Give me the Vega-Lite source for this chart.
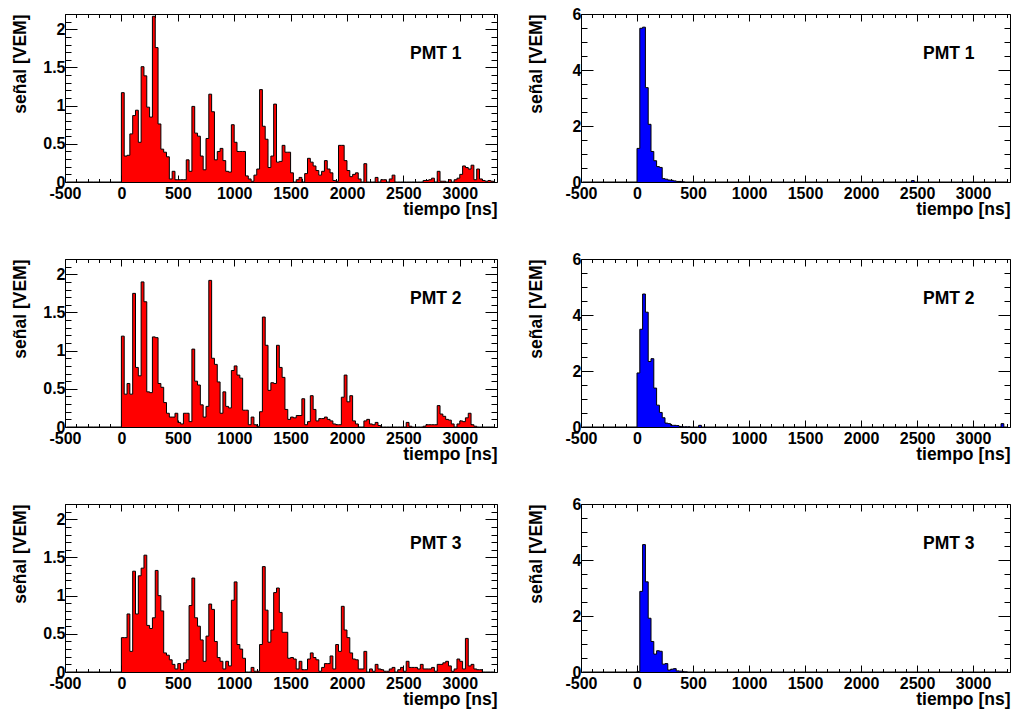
{
"$schema": "https://vega.github.io/schema/vega-lite/v6.json",
"background": "white",
"padding": {"left": 11, "top": 5, "right": 5, "bottom": 0},
"config": {
 "view": {"stroke": "black", "strokeWidth": 1},
 "font": "Liberation Sans",
 "axis": {"labelFont": "Liberation Sans", "labelFontSize": 16, "labelFontWeight": "bold", "labelColor": "black", "titleFont": "Liberation Sans", "titleFontSize": 17.5, "titleFontWeight": "bold", "titleColor": "black", "tickColor": "black", "tickWidth": 1, "domain": false, "grid": false, "labelFlush": false, "labelOverlap": false, "labelBound": false},
 "title": {"font": "Liberation Sans", "fontSize": 17.5, "fontWeight": "bold", "color": "black", "anchor": "end", "offset": -56, "dx": -36}
},
"datasets": {
 "L1": [{"t":-487.5,"v":0},{"t":-12.5,"v":0},
 {"t":12.5,"v":1.17},{"t":37.5,"v":0.34},{"t":62.5,"v":0.35},{"t":87.5,"v":0.63},{"t":112.5,"v":0.87},{"t":137.5,"v":0.94},{"t":162.5,"v":0.52},{"t":187.5,"v":1.51},{"t":212.5,"v":1.39},{"t":237.5,"v":0.98},
 {"t":262.5,"v":0.85},{"t":287.5,"v":2.17},{"t":312.5,"v":1.76},{"t":337.5,"v":0.76},{"t":362.5,"v":0.43},{"t":387.5,"v":0.39},{"t":412.5,"v":0.33},{"t":437.5,"v":0.04},{"t":462.5,"v":0.14},{"t":487.5,"v":0.03},
 {"t":512.5,"v":0.03},{"t":537.5,"v":0.03},{"t":562.5,"v":0.03},{"t":587.5,"v":0.29},{"t":612.5,"v":0.14},{"t":637.5,"v":0.99},{"t":662.5,"v":0.64},{"t":687.5,"v":0.60},{"t":712.5,"v":0.34},{"t":737.5,"v":0.16},
 {"t":762.5,"v":0.57},{"t":787.5,"v":1.15},{"t":812.5,"v":0.92},{"t":837.5,"v":0.29},{"t":862.5,"v":0.40},{"t":887.5,"v":0.44},{"t":912.5,"v":0.28},{"t":937.5,"v":0.14},{"t":962.5,"v":0.13},{"t":987.5,"v":0.75},
 {"t":1012.5,"v":0.52},{"t":1037.5,"v":0.40},{"t":1062.5,"v":0.40},{"t":1087.5,"v":0.40},{"t":1112.5,"v":0.08},{"t":1137.5,"v":0.04},{"t":1162.5,"v":0.01},{"t":1187.5,"v":0.09},{"t":1212.5,"v":0.17},{"t":1237.5,"v":1.21},
 {"t":1262.5,"v":0.73},{"t":1287.5,"v":0.56},{"t":1312.5,"v":0.19},{"t":1337.5,"v":0.34},{"t":1362.5,"v":1.02},{"t":1387.5,"v":0.26},{"t":1412.5,"v":0.27},{"t":1437.5,"v":0.48},{"t":1462.5,"v":0.39},{"t":1487.5,"v":0.39},
 {"t":1512.5,"v":0.12},{"t":1537.5,"v":0},{"t":1562.5,"v":0.03},{"t":1587.5,"v":0.06},{"t":1612.5,"v":0},{"t":1637.5,"v":0.11},{"t":1662.5,"v":0.31},{"t":1687.5,"v":0.26},{"t":1712.5,"v":0.21},{"t":1737.5,"v":0.15},
 {"t":1762.5,"v":0.09},{"t":1787.5,"v":0.14},{"t":1812.5,"v":0.28},{"t":1837.5,"v":0.17},{"t":1862.5,"v":0.12},{"t":1887.5,"v":0.02},{"t":1912.5,"v":0.01},{"t":1937.5,"v":0.48},{"t":1962.5,"v":0.48},{"t":1987.5,"v":0.28},
 {"t":2012.5,"v":0.15},{"t":2037.5,"v":0.07},{"t":2062.5,"v":0.10},{"t":2087.5,"v":0.12},{"t":2112.5,"v":0.04},{"t":2137.5,"v":0},{"t":2162.5,"v":0.24},{"t":2187.5,"v":0},{"t":2212.5,"v":0},{"t":2237.5,"v":0},
 {"t":2262.5,"v":0.06},{"t":2287.5,"v":0},{"t":2312.5,"v":0.03},{"t":2337.5,"v":0.03},{"t":2362.5,"v":0},{"t":2387.5,"v":0.04},{"t":2412.5,"v":0.09},{"t":2437.5,"v":0},{"t":2462.5,"v":0},{"t":2487.5,"v":0},
 {"t":2512.5,"v":0},{"t":2537.5,"v":0},{"t":2562.5,"v":0},{"t":2587.5,"v":0},{"t":2612.5,"v":0},{"t":2637.5,"v":0},{"t":2662.5,"v":0},{"t":2687.5,"v":0.02},{"t":2712.5,"v":0.02},{"t":2737.5,"v":0.03},
 {"t":2762.5,"v":0.05},{"t":2787.5,"v":0},{"t":2812.5,"v":0.14},{"t":2837.5,"v":0.01},{"t":2862.5,"v":0.01},{"t":2887.5,"v":0},{"t":2912.5,"v":0.03},{"t":2937.5,"v":0},{"t":2962.5,"v":0.03},{"t":2987.5,"v":0.05},
 {"t":3012.5,"v":0.10},{"t":3037.5,"v":0.21},{"t":3062.5,"v":0.19},{"t":3087.5,"v":0.17},{"t":3112.5,"v":0.22},{"t":3137.5,"v":0.03},{"t":3162.5,"v":0.17},{"t":3187.5,"v":0.04},{"t":3212.5,"v":0.02},{"t":3237.5,"v":0.01},
 {"t":3262.5,"v":0.02},{"t":3287.5,"v":0.01},{"t":3312.5,"v":0}],
 "L2": [{"t":-487.5,"v":0},{"t":-12.5,"v":0},
 {"t":12.5,"v":1.19},{"t":37.5,"v":0.43},{"t":62.5,"v":0.57},{"t":87.5,"v":0.43},{"t":112.5,"v":1.75},{"t":137.5,"v":0.78},{"t":162.5,"v":0.67},{"t":187.5,"v":1.90},{"t":212.5,"v":1.64},{"t":237.5,"v":0.46},
 {"t":262.5,"v":0.45},{"t":287.5,"v":1.18},{"t":312.5,"v":1.17},{"t":337.5,"v":0.57},{"t":362.5,"v":0.52},{"t":387.5,"v":0.32},{"t":412.5,"v":0.18},{"t":437.5,"v":0.13},{"t":462.5,"v":0.13},{"t":487.5,"v":0.18},
 {"t":512.5,"v":0.06},{"t":537.5,"v":0.04},{"t":562.5,"v":0.18},{"t":587.5,"v":0.18},{"t":612.5,"v":0.07},{"t":637.5,"v":1.02},{"t":662.5,"v":0.60},{"t":687.5,"v":0.55},{"t":712.5,"v":0.29},{"t":737.5,"v":0.13},
 {"t":762.5,"v":0.27},{"t":787.5,"v":1.92},{"t":812.5,"v":0.90},{"t":837.5,"v":0.82},{"t":862.5,"v":0.59},{"t":887.5,"v":0.18},{"t":912.5,"v":0.46},{"t":937.5,"v":0.27},{"t":962.5,"v":0.25},{"t":987.5,"v":0.74},
 {"t":1012.5,"v":0.80},{"t":1037.5,"v":0.68},{"t":1062.5,"v":0.64},{"t":1087.5,"v":0.22},{"t":1112.5,"v":0.22},{"t":1137.5,"v":0.03},{"t":1162.5,"v":0.13},{"t":1187.5,"v":0.03},{"t":1212.5,"v":0.01},{"t":1237.5,"v":0.20},
 {"t":1262.5,"v":1.44},{"t":1287.5,"v":1.07},{"t":1312.5,"v":0.48},{"t":1337.5,"v":0.58},{"t":1362.5,"v":0.57},{"t":1387.5,"v":1.07},{"t":1412.5,"v":0.78},{"t":1437.5,"v":0.65},{"t":1462.5,"v":0.23},{"t":1487.5,"v":0.10},
 {"t":1512.5,"v":0.13},{"t":1537.5,"v":0.12},{"t":1562.5,"v":0.15},{"t":1587.5,"v":0.15},{"t":1612.5,"v":0.37},{"t":1637.5,"v":0.03},{"t":1662.5,"v":0.07},{"t":1687.5,"v":0.41},{"t":1712.5,"v":0.23},{"t":1737.5,"v":0.08},
 {"t":1762.5,"v":0.11},{"t":1787.5,"v":0.11},{"t":1812.5,"v":0.13},{"t":1837.5,"v":0.10},{"t":1862.5,"v":0.08},{"t":1887.5,"v":0.04},{"t":1912.5,"v":0.03},{"t":1937.5,"v":0.03},{"t":1962.5,"v":0.39},{"t":1987.5,"v":0.68},
 {"t":2012.5,"v":0.33},{"t":2037.5,"v":0.41},{"t":2062.5,"v":0.08},{"t":2087.5,"v":0.04},{"t":2112.5,"v":0},{"t":2137.5,"v":0},{"t":2162.5,"v":0.08},{"t":2187.5,"v":0.10},{"t":2212.5,"v":0.04},{"t":2237.5,"v":0.03},
 {"t":2262.5,"v":0.06},{"t":2287.5,"v":0.02},{"t":2312.5,"v":0},{"t":2337.5,"v":0},{"t":2362.5,"v":0},{"t":2387.5,"v":0},{"t":2412.5,"v":0},{"t":2437.5,"v":0},{"t":2462.5,"v":0},{"t":2487.5,"v":0},
 {"t":2512.5,"v":0},{"t":2537.5,"v":0.06},{"t":2562.5,"v":0.01},{"t":2587.5,"v":0},{"t":2612.5,"v":0},{"t":2637.5,"v":0},{"t":2662.5,"v":0},{"t":2687.5,"v":0.01},{"t":2712.5,"v":0.03},{"t":2737.5,"v":0.03},
 {"t":2762.5,"v":0.03},{"t":2787.5,"v":0.03},{"t":2812.5,"v":0.28},{"t":2837.5,"v":0.17},{"t":2862.5,"v":0.14},{"t":2887.5,"v":0.10},{"t":2912.5,"v":0.09},{"t":2937.5,"v":0.04},{"t":2962.5,"v":0},{"t":2987.5,"v":0.04},
 {"t":3012.5,"v":0.08},{"t":3037.5,"v":0.07},{"t":3062.5,"v":0.12},{"t":3087.5,"v":0.18},{"t":3112.5,"v":0.03},{"t":3137.5,"v":0.01},{"t":3162.5,"v":0},{"t":3187.5,"v":0},{"t":3212.5,"v":0},{"t":3237.5,"v":0},
 {"t":3262.5,"v":0},{"t":3287.5,"v":0},{"t":3312.5,"v":0}],
 "L3": [{"t":-487.5,"v":0},{"t":-12.5,"v":0},
 {"t":12.5,"v":0.45},{"t":37.5,"v":0.45},{"t":62.5,"v":0.76},{"t":87.5,"v":0.27},{"t":112.5,"v":1.32},{"t":137.5,"v":0.76},{"t":162.5,"v":1.26},{"t":187.5,"v":1.36},{"t":212.5,"v":1.53},{"t":237.5,"v":0.61},
 {"t":262.5,"v":0.57},{"t":287.5,"v":0.71},{"t":312.5,"v":1.33},{"t":337.5,"v":1.00},{"t":362.5,"v":0.80},{"t":387.5,"v":0.25},{"t":412.5,"v":0.22},{"t":437.5,"v":0.16},{"t":462.5,"v":0.10},{"t":487.5,"v":0.04},
 {"t":512.5,"v":0.11},{"t":537.5,"v":0.03},{"t":562.5,"v":0.12},{"t":587.5,"v":0.16},{"t":612.5,"v":0.87},{"t":637.5,"v":1.23},{"t":662.5,"v":0.71},{"t":687.5,"v":0.60},{"t":712.5,"v":0.42},{"t":737.5,"v":0.14},
 {"t":762.5,"v":0.47},{"t":787.5,"v":0.89},{"t":812.5,"v":0.82},{"t":837.5,"v":0.40},{"t":862.5,"v":0.19},{"t":887.5,"v":0.14},{"t":912.5,"v":0.04},{"t":937.5,"v":0.14},{"t":962.5,"v":0.08},{"t":987.5,"v":0.94},
 {"t":1012.5,"v":1.18},{"t":1037.5,"v":0.36},{"t":1062.5,"v":0.30},{"t":1087.5,"v":0.18},{"t":1112.5,"v":0},{"t":1137.5,"v":0},{"t":1162.5,"v":0.06},{"t":1187.5,"v":0.01},{"t":1212.5,"v":0.01},{"t":1237.5,"v":0.36},
 {"t":1262.5,"v":1.38},{"t":1287.5,"v":0.81},{"t":1312.5,"v":0.39},{"t":1337.5,"v":0.55},{"t":1362.5,"v":1.04},{"t":1387.5,"v":1.10},{"t":1412.5,"v":0.78},{"t":1437.5,"v":0.52},{"t":1462.5,"v":0.52},{"t":1487.5,"v":0.18},
 {"t":1512.5,"v":0.19},{"t":1537.5,"v":0.17},{"t":1562.5,"v":0.04},{"t":1587.5,"v":0.14},{"t":1612.5,"v":0.03},{"t":1637.5,"v":0.03},{"t":1662.5,"v":0.17},{"t":1687.5,"v":0.25},{"t":1712.5,"v":0.19},{"t":1737.5,"v":0.16},
 {"t":1762.5,"v":0.01},{"t":1787.5,"v":0.06},{"t":1812.5,"v":0.11},{"t":1837.5,"v":0.11},{"t":1862.5,"v":0.21},{"t":1887.5,"v":0.04},{"t":1912.5,"v":0.36},{"t":1937.5,"v":0.27},{"t":1962.5,"v":0.86},{"t":1987.5,"v":0.55},
 {"t":2012.5,"v":0.45},{"t":2037.5,"v":0.25},{"t":2062.5,"v":0.17},{"t":2087.5,"v":0.16},{"t":2112.5,"v":0.04},{"t":2137.5,"v":0.04},{"t":2162.5,"v":0.27},{"t":2187.5,"v":0},{"t":2212.5,"v":0.04},{"t":2237.5,"v":0.01},
 {"t":2262.5,"v":0.10},{"t":2287.5,"v":0.04},{"t":2312.5,"v":0.03},{"t":2337.5,"v":0.01},{"t":2362.5,"v":0.01},{"t":2387.5,"v":0.04},{"t":2412.5,"v":0.06},{"t":2437.5,"v":0},{"t":2462.5,"v":0.03},{"t":2487.5,"v":0.06},
 {"t":2512.5,"v":0.01},{"t":2537.5,"v":0.14},{"t":2562.5,"v":0.06},{"t":2587.5,"v":0.06},{"t":2612.5,"v":0.06},{"t":2637.5,"v":0.04},{"t":2662.5,"v":0.10},{"t":2687.5,"v":0.04},{"t":2712.5,"v":0.04},{"t":2737.5,"v":0.04},
 {"t":2762.5,"v":0.06},{"t":2787.5,"v":0.01},{"t":2812.5,"v":0.10},{"t":2837.5,"v":0.10},{"t":2862.5,"v":0.12},{"t":2887.5,"v":0.14},{"t":2912.5,"v":0.08},{"t":2937.5,"v":0.01},{"t":2962.5,"v":0.04},{"t":2987.5,"v":0.17},
 {"t":3012.5,"v":0.14},{"t":3037.5,"v":0.04},{"t":3062.5,"v":0.44},{"t":3087.5,"v":0.08},{"t":3112.5,"v":0.10},{"t":3137.5,"v":0.04},{"t":3162.5,"v":0.03},{"t":3187.5,"v":0.03},{"t":3212.5,"v":0},{"t":3237.5,"v":0},
 {"t":3262.5,"v":0},{"t":3287.5,"v":0},{"t":3312.5,"v":0}],
 "R1": [{"t":-487.5,"v":0},{"t":-12.5,"v":0},
 {"t":12.5,"v":1.20},{"t":37.5,"v":5.49},{"t":62.5,"v":5.53},{"t":87.5,"v":3.37},{"t":112.5,"v":2.06},{"t":137.5,"v":1.09},{"t":162.5,"v":0.76},{"t":187.5,"v":0.55},{"t":212.5,"v":0.52},{"t":237.5,"v":0.12},
 {"t":262.5,"v":0.10},{"t":287.5,"v":0.07},{"t":312.5,"v":0.06},{"t":337.5,"v":0.04},{"t":362.5,"v":0.02},{"t":387.5,"v":0.02},{"t":412.5,"v":0.01},{"t":437.5,"v":0},
 {"t":2437.5,"v":0},{"t":2462.5,"v":0.05},{"t":2487.5,"v":0},{"t":3312.5,"v":0}],
 "R2": [{"t":-487.5,"v":0},{"t":-12.5,"v":0},
 {"t":12.5,"v":1.93},{"t":37.5,"v":3.49},{"t":62.5,"v":4.75},{"t":87.5,"v":4.10},{"t":112.5,"v":2.34},{"t":137.5,"v":2.44},{"t":162.5,"v":1.39},{"t":187.5,"v":0.78},{"t":212.5,"v":0.52},{"t":237.5,"v":0.33},
 {"t":262.5,"v":0.14},{"t":287.5,"v":0.12},{"t":312.5,"v":0.06},{"t":337.5,"v":0.06},{"t":362.5,"v":0.05},{"t":387.5,"v":0.02},{"t":412.5,"v":0.01},{"t":437.5,"v":0.01},{"t":462.5,"v":0.01},{"t":487.5,"v":0},
 {"t":512.5,"v":0},{"t":537.5,"v":0},{"t":562.5,"v":0.06},{"t":587.5,"v":0},
 {"t":3237.5,"v":0},{"t":3262.5,"v":0.12},{"t":3287.5,"v":0},{"t":3312.5,"v":0}],
 "R3": [{"t":-487.5,"v":0},{"t":-12.5,"v":0},
 {"t":12.5,"v":0.02},{"t":37.5,"v":2.88},{"t":62.5,"v":4.55},{"t":87.5,"v":3.22},{"t":112.5,"v":1.92},{"t":137.5,"v":1.09},{"t":162.5,"v":0.64},{"t":187.5,"v":0.76},{"t":212.5,"v":0.74},{"t":237.5,"v":0.28},
 {"t":262.5,"v":0.30},{"t":287.5,"v":0.07},{"t":312.5,"v":0.10},{"t":337.5,"v":0.12},{"t":362.5,"v":0.04},{"t":387.5,"v":0.03},{"t":412.5,"v":0.02},{"t":437.5,"v":0.01},{"t":462.5,"v":0},{"t":3312.5,"v":0}]
},
"columns": 2,
"spacing": {"row": 77, "column": 84},
"bounds": "flush",
"concat": [
 {"width": 432, "height": 168, "data": {"name": "L1"}, "title": "PMT 1",
  "layer": [
   {"mark": {"type": "area", "interpolate": "step", "color": "#ff0000"},
    "encoding": {
     "x": {"field": "t", "type": "quantitative", "scale": {"domain": [-500, 3330], "nice": false, "zero": false},
       "axis": {"orient": "bottom", "values": [-500,-400,-300,-200,-100,0,100,200,300,400,500,600,700,800,900,1000,1100,1200,1300,1400,1500,1600,1700,1800,1900,2000,2100,2200,2300,2400,2500,2600,2700,2800,2900,3000,3100,3200,3300], "labelExpr": "datum.value % 500 === 0 ? '' + datum.value : ''", "tickSize": {"condition": {"test": "datum.value % 500 === 0", "value": -7}, "value": -3.5}, "labelPadding": 10, "title": "tiempo [ns]", "titleAnchor": "end", "titlePadding": -4}},
     "y": {"field": "v", "type": "quantitative", "scale": {"domain": [0, 2.2], "nice": false},
       "axis": {"orient": "left", "values": [0,0.1,0.2,0.3,0.4,0.5,0.6,0.7,0.8,0.9,1,1.1,1.2,1.3,1.4,1.5,1.6,1.7,1.8,1.9,2,2.1,2.2], "labelExpr": "datum.value % 0.5 === 0 ? '' + datum.value : ''", "tickSize": {"condition": {"test": "datum.value % 0.5 === 0", "value": -12}, "value": -6}, "labelPadding": 12, "title": "señal [VEM]", "titleAnchor": "end", "titlePadding": 13}}
    }},
   {"mark": {"type": "line", "interpolate": "step", "color": "black", "strokeWidth": 1},
    "encoding": {
     "x": {"field": "t", "type": "quantitative", "axis": {"orient": "top", "values": [-500,-400,-300,-200,-100,0,100,200,300,400,500,600,700,800,900,1000,1100,1200,1300,1400,1500,1600,1700,1800,1900,2000,2100,2200,2300,2400,2500,2600,2700,2800,2900,3000,3100,3200,3300], "labels": false, "tickSize": {"condition": {"test": "datum.value % 500 === 0", "value": -7}, "value": -3.5}, "title": null}},
     "y": {"field": "v", "type": "quantitative", "axis": {"orient": "right", "values": [0,0.1,0.2,0.3,0.4,0.5,0.6,0.7,0.8,0.9,1,1.1,1.2,1.3,1.4,1.5,1.6,1.7,1.8,1.9,2,2.1,2.2], "labels": false, "tickSize": {"condition": {"test": "datum.value % 0.5 === 0", "value": -12}, "value": -6}, "title": null}}
    }}
  ],
  "resolve": {"axis": {"x": "independent", "y": "independent"}}},
 {"width": 429, "height": 168, "data": {"name": "R1"}, "title": "PMT 1",
  "layer": [
   {"mark": {"type": "area", "interpolate": "step", "color": "#0000ff"},
    "encoding": {
     "x": {"field": "t", "type": "quantitative", "scale": {"domain": [-500, 3330], "nice": false, "zero": false},
       "axis": {"orient": "bottom", "values": [-500,-400,-300,-200,-100,0,100,200,300,400,500,600,700,800,900,1000,1100,1200,1300,1400,1500,1600,1700,1800,1900,2000,2100,2200,2300,2400,2500,2600,2700,2800,2900,3000,3100,3200,3300], "labelExpr": "datum.value % 500 === 0 ? '' + datum.value : ''", "tickSize": {"condition": {"test": "datum.value % 500 === 0", "value": -7}, "value": -3.5}, "labelPadding": 10, "title": "tiempo [ns]", "titleAnchor": "end", "titlePadding": -4}},
     "y": {"field": "v", "type": "quantitative", "scale": {"domain": [0, 6], "nice": false},
       "axis": {"orient": "left", "values": [0,0.5,1,1.5,2,2.5,3,3.5,4,4.5,5,5.5,6], "labelExpr": "datum.value % 2 === 0 ? '' + datum.value : ''", "tickSize": {"condition": {"test": "datum.value % 2 === 0", "value": -12}, "value": -6}, "labelPadding": 12, "title": "señal [VEM]", "titleAnchor": "end", "titlePadding": 27}}
    }},
   {"mark": {"type": "line", "interpolate": "step", "color": "black", "strokeWidth": 1},
    "encoding": {
     "x": {"field": "t", "type": "quantitative", "axis": {"orient": "top", "values": [-500,-400,-300,-200,-100,0,100,200,300,400,500,600,700,800,900,1000,1100,1200,1300,1400,1500,1600,1700,1800,1900,2000,2100,2200,2300,2400,2500,2600,2700,2800,2900,3000,3100,3200,3300], "labels": false, "tickSize": {"condition": {"test": "datum.value % 500 === 0", "value": -7}, "value": -3.5}, "title": null}},
     "y": {"field": "v", "type": "quantitative", "axis": {"orient": "right", "values": [0,0.5,1,1.5,2,2.5,3,3.5,4,4.5,5,5.5,6], "labels": false, "tickSize": {"condition": {"test": "datum.value % 2 === 0", "value": -12}, "value": -6}, "title": null}}
    }}
  ],
  "resolve": {"axis": {"x": "independent", "y": "independent"}}},
 {"width": 432, "height": 168, "data": {"name": "L2"}, "title": "PMT 2",
  "layer": [
   {"mark": {"type": "area", "interpolate": "step", "color": "#ff0000"},
    "encoding": {
     "x": {"field": "t", "type": "quantitative", "scale": {"domain": [-500, 3330], "nice": false, "zero": false},
       "axis": {"orient": "bottom", "values": [-500,-400,-300,-200,-100,0,100,200,300,400,500,600,700,800,900,1000,1100,1200,1300,1400,1500,1600,1700,1800,1900,2000,2100,2200,2300,2400,2500,2600,2700,2800,2900,3000,3100,3200,3300], "labelExpr": "datum.value % 500 === 0 ? '' + datum.value : ''", "tickSize": {"condition": {"test": "datum.value % 500 === 0", "value": -7}, "value": -3.5}, "labelPadding": 10, "title": "tiempo [ns]", "titleAnchor": "end", "titlePadding": -4}},
     "y": {"field": "v", "type": "quantitative", "scale": {"domain": [0, 2.2], "nice": false},
       "axis": {"orient": "left", "values": [0,0.1,0.2,0.3,0.4,0.5,0.6,0.7,0.8,0.9,1,1.1,1.2,1.3,1.4,1.5,1.6,1.7,1.8,1.9,2,2.1,2.2], "labelExpr": "datum.value % 0.5 === 0 ? '' + datum.value : ''", "tickSize": {"condition": {"test": "datum.value % 0.5 === 0", "value": -12}, "value": -6}, "labelPadding": 12, "title": "señal [VEM]", "titleAnchor": "end", "titlePadding": 13}}
    }},
   {"mark": {"type": "line", "interpolate": "step", "color": "black", "strokeWidth": 1},
    "encoding": {
     "x": {"field": "t", "type": "quantitative", "axis": {"orient": "top", "values": [-500,-400,-300,-200,-100,0,100,200,300,400,500,600,700,800,900,1000,1100,1200,1300,1400,1500,1600,1700,1800,1900,2000,2100,2200,2300,2400,2500,2600,2700,2800,2900,3000,3100,3200,3300], "labels": false, "tickSize": {"condition": {"test": "datum.value % 500 === 0", "value": -7}, "value": -3.5}, "title": null}},
     "y": {"field": "v", "type": "quantitative", "axis": {"orient": "right", "values": [0,0.1,0.2,0.3,0.4,0.5,0.6,0.7,0.8,0.9,1,1.1,1.2,1.3,1.4,1.5,1.6,1.7,1.8,1.9,2,2.1,2.2], "labels": false, "tickSize": {"condition": {"test": "datum.value % 0.5 === 0", "value": -12}, "value": -6}, "title": null}}
    }}
  ],
  "resolve": {"axis": {"x": "independent", "y": "independent"}}},
 {"width": 429, "height": 168, "data": {"name": "R2"}, "title": "PMT 2",
  "layer": [
   {"mark": {"type": "area", "interpolate": "step", "color": "#0000ff"},
    "encoding": {
     "x": {"field": "t", "type": "quantitative", "scale": {"domain": [-500, 3330], "nice": false, "zero": false},
       "axis": {"orient": "bottom", "values": [-500,-400,-300,-200,-100,0,100,200,300,400,500,600,700,800,900,1000,1100,1200,1300,1400,1500,1600,1700,1800,1900,2000,2100,2200,2300,2400,2500,2600,2700,2800,2900,3000,3100,3200,3300], "labelExpr": "datum.value % 500 === 0 ? '' + datum.value : ''", "tickSize": {"condition": {"test": "datum.value % 500 === 0", "value": -7}, "value": -3.5}, "labelPadding": 10, "title": "tiempo [ns]", "titleAnchor": "end", "titlePadding": -4}},
     "y": {"field": "v", "type": "quantitative", "scale": {"domain": [0, 6], "nice": false},
       "axis": {"orient": "left", "values": [0,0.5,1,1.5,2,2.5,3,3.5,4,4.5,5,5.5,6], "labelExpr": "datum.value % 2 === 0 ? '' + datum.value : ''", "tickSize": {"condition": {"test": "datum.value % 2 === 0", "value": -12}, "value": -6}, "labelPadding": 12, "title": "señal [VEM]", "titleAnchor": "end", "titlePadding": 27}}
    }},
   {"mark": {"type": "line", "interpolate": "step", "color": "black", "strokeWidth": 1},
    "encoding": {
     "x": {"field": "t", "type": "quantitative", "axis": {"orient": "top", "values": [-500,-400,-300,-200,-100,0,100,200,300,400,500,600,700,800,900,1000,1100,1200,1300,1400,1500,1600,1700,1800,1900,2000,2100,2200,2300,2400,2500,2600,2700,2800,2900,3000,3100,3200,3300], "labels": false, "tickSize": {"condition": {"test": "datum.value % 500 === 0", "value": -7}, "value": -3.5}, "title": null}},
     "y": {"field": "v", "type": "quantitative", "axis": {"orient": "right", "values": [0,0.5,1,1.5,2,2.5,3,3.5,4,4.5,5,5.5,6], "labels": false, "tickSize": {"condition": {"test": "datum.value % 2 === 0", "value": -12}, "value": -6}, "title": null}}
    }}
  ],
  "resolve": {"axis": {"x": "independent", "y": "independent"}}},
 {"width": 432, "height": 168, "data": {"name": "L3"}, "title": "PMT 3",
  "layer": [
   {"mark": {"type": "area", "interpolate": "step", "color": "#ff0000"},
    "encoding": {
     "x": {"field": "t", "type": "quantitative", "scale": {"domain": [-500, 3330], "nice": false, "zero": false},
       "axis": {"orient": "bottom", "values": [-500,-400,-300,-200,-100,0,100,200,300,400,500,600,700,800,900,1000,1100,1200,1300,1400,1500,1600,1700,1800,1900,2000,2100,2200,2300,2400,2500,2600,2700,2800,2900,3000,3100,3200,3300], "labelExpr": "datum.value % 500 === 0 ? '' + datum.value : ''", "tickSize": {"condition": {"test": "datum.value % 500 === 0", "value": -7}, "value": -3.5}, "labelPadding": 10, "title": "tiempo [ns]", "titleAnchor": "end", "titlePadding": -4}},
     "y": {"field": "v", "type": "quantitative", "scale": {"domain": [0, 2.2], "nice": false},
       "axis": {"orient": "left", "values": [0,0.1,0.2,0.3,0.4,0.5,0.6,0.7,0.8,0.9,1,1.1,1.2,1.3,1.4,1.5,1.6,1.7,1.8,1.9,2,2.1,2.2], "labelExpr": "datum.value % 0.5 === 0 ? '' + datum.value : ''", "tickSize": {"condition": {"test": "datum.value % 0.5 === 0", "value": -12}, "value": -6}, "labelPadding": 12, "title": "señal [VEM]", "titleAnchor": "end", "titlePadding": 13}}
    }},
   {"mark": {"type": "line", "interpolate": "step", "color": "black", "strokeWidth": 1},
    "encoding": {
     "x": {"field": "t", "type": "quantitative", "axis": {"orient": "top", "values": [-500,-400,-300,-200,-100,0,100,200,300,400,500,600,700,800,900,1000,1100,1200,1300,1400,1500,1600,1700,1800,1900,2000,2100,2200,2300,2400,2500,2600,2700,2800,2900,3000,3100,3200,3300], "labels": false, "tickSize": {"condition": {"test": "datum.value % 500 === 0", "value": -7}, "value": -3.5}, "title": null}},
     "y": {"field": "v", "type": "quantitative", "axis": {"orient": "right", "values": [0,0.1,0.2,0.3,0.4,0.5,0.6,0.7,0.8,0.9,1,1.1,1.2,1.3,1.4,1.5,1.6,1.7,1.8,1.9,2,2.1,2.2], "labels": false, "tickSize": {"condition": {"test": "datum.value % 0.5 === 0", "value": -12}, "value": -6}, "title": null}}
    }}
  ],
  "resolve": {"axis": {"x": "independent", "y": "independent"}}},
 {"width": 429, "height": 168, "data": {"name": "R3"}, "title": "PMT 3",
  "layer": [
   {"mark": {"type": "area", "interpolate": "step", "color": "#0000ff"},
    "encoding": {
     "x": {"field": "t", "type": "quantitative", "scale": {"domain": [-500, 3330], "nice": false, "zero": false},
       "axis": {"orient": "bottom", "values": [-500,-400,-300,-200,-100,0,100,200,300,400,500,600,700,800,900,1000,1100,1200,1300,1400,1500,1600,1700,1800,1900,2000,2100,2200,2300,2400,2500,2600,2700,2800,2900,3000,3100,3200,3300], "labelExpr": "datum.value % 500 === 0 ? '' + datum.value : ''", "tickSize": {"condition": {"test": "datum.value % 500 === 0", "value": -7}, "value": -3.5}, "labelPadding": 10, "title": "tiempo [ns]", "titleAnchor": "end", "titlePadding": -4}},
     "y": {"field": "v", "type": "quantitative", "scale": {"domain": [0, 6], "nice": false},
       "axis": {"orient": "left", "values": [0,0.5,1,1.5,2,2.5,3,3.5,4,4.5,5,5.5,6], "labelExpr": "datum.value % 2 === 0 ? '' + datum.value : ''", "tickSize": {"condition": {"test": "datum.value % 2 === 0", "value": -12}, "value": -6}, "labelPadding": 12, "title": "señal [VEM]", "titleAnchor": "end", "titlePadding": 27}}
    }},
   {"mark": {"type": "line", "interpolate": "step", "color": "black", "strokeWidth": 1},
    "encoding": {
     "x": {"field": "t", "type": "quantitative", "axis": {"orient": "top", "values": [-500,-400,-300,-200,-100,0,100,200,300,400,500,600,700,800,900,1000,1100,1200,1300,1400,1500,1600,1700,1800,1900,2000,2100,2200,2300,2400,2500,2600,2700,2800,2900,3000,3100,3200,3300], "labels": false, "tickSize": {"condition": {"test": "datum.value % 500 === 0", "value": -7}, "value": -3.5}, "title": null}},
     "y": {"field": "v", "type": "quantitative", "axis": {"orient": "right", "values": [0,0.5,1,1.5,2,2.5,3,3.5,4,4.5,5,5.5,6], "labels": false, "tickSize": {"condition": {"test": "datum.value % 2 === 0", "value": -12}, "value": -6}, "title": null}}
    }}
  ],
  "resolve": {"axis": {"x": "independent", "y": "independent"}}}
]
}
